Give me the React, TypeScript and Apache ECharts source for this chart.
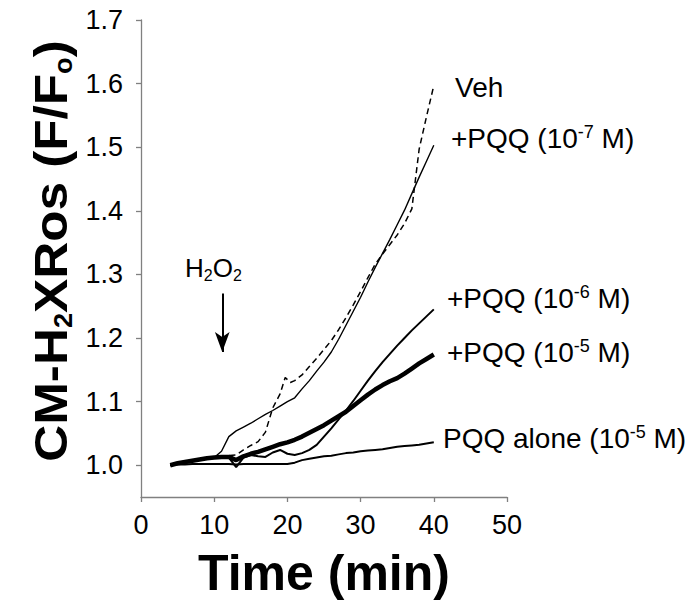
import React, { useEffect, useRef } from "react";
import * as echarts from "echarts";

// time points (min)
const timeMin = [4, 5, 6, 7, 8, 9, 10, 11, 12, 13, 14, 15, 16, 17, 18, 19, 20, 21, 22, 23, 24, 25, 26, 27, 28, 29, 30, 31, 32, 33, 34, 35, 36, 37, 38, 39, 40];
const vehTime = [4, 5, 6, 7, 8, 9, 10, 11, 12, 13, 14, 15, 16, 17, 18, 19, 19.7, 20.4, 21, 22, 23, 24, 25, 26, 27, 28, 29, 30, 31, 32, 33, 34, 35, 36, 37, 37.5, 38, 39, 40];

// F/Fo values
const vehValues = [1.000, 1.003, 1.005, 1.007, 1.009, 1.011, 1.013, 1.014, 1.015, 1.016, 1.024, 1.031, 1.037, 1.052, 1.090, 1.112, 1.138, 1.130, 1.133, 1.142, 1.155, 1.168, 1.182, 1.196, 1.213, 1.232, 1.252, 1.273, 1.295, 1.316, 1.332, 1.347, 1.362, 1.380, 1.403, 1.450, 1.497, 1.548, 1.597];
const pqq7Values = [1.000, 1.002, 1.004, 1.006, 1.008, 1.010, 1.012, 1.022, 1.045, 1.054, 1.060, 1.066, 1.073, 1.080, 1.086, 1.093, 1.100, 1.106, 1.120, 1.133, 1.148, 1.162, 1.178, 1.198, 1.220, 1.242, 1.264, 1.288, 1.311, 1.333, 1.355, 1.378, 1.401, 1.427, 1.453, 1.478, 1.503];
const pqq6Values = [1.000, 1.002, 1.004, 1.006, 1.008, 1.010, 1.012, 1.013, 1.012, 0.997, 1.012, 1.016, 1.014, 1.013, 1.020, 1.024, 1.018, 1.016, 1.019, 1.024, 1.032, 1.045, 1.058, 1.072, 1.086, 1.101, 1.117, 1.133, 1.148, 1.162, 1.175, 1.188, 1.200, 1.212, 1.223, 1.234, 1.245];
const pqq5Values = [1.000, 1.003, 1.005, 1.007, 1.009, 1.011, 1.012, 1.013, 1.013, 1.008, 1.014, 1.018, 1.021, 1.025, 1.029, 1.033, 1.036, 1.040, 1.045, 1.051, 1.057, 1.063, 1.070, 1.077, 1.084, 1.093, 1.102, 1.111, 1.119, 1.126, 1.132, 1.137, 1.144, 1.152, 1.160, 1.167, 1.174];
const aloneValues = [1.000, 1.001, 1.001, 1.002, 1.002, 1.002, 1.002, 1.002, 1.002, 1.001, 1.002, 1.002, 1.002, 1.002, 1.002, 1.002, 1.002, 1.004, 1.008, 1.010, 1.012, 1.014, 1.015, 1.017, 1.019, 1.020, 1.022, 1.023, 1.024, 1.025, 1.027, 1.029, 1.030, 1.031, 1.032, 1.034, 1.036];

// axis ticks
const yTickValues = [1.0, 1.1, 1.2, 1.3, 1.4, 1.5, 1.6, 1.7];

// H2O2 addition arrow (data coords)
const arrowTime = 11.1;
const arrowFrom = 1.27;
const arrowTo = 1.178;

const FONT = "'Liberation Sans', Arial, Helvetica, sans-serif";

function pairs(t: number[], v: number[]) {
  return t.map((x, i) => [x, v[i]]);
}

function supLabel(x: number, y: number, pre: string, sup: string, post: string) {
  return {
    type: "text",
    x,
    y,
    style: {
      text: `{m|${pre}}{s|${sup}}{m|${post}}`,
      fill: "#000",
      verticalAlign: "middle",
      rich: {
        m: { fontSize: 28, fontFamily: FONT, fill: "#000", lineHeight: 32 },
        s: { fontSize: 18, fontFamily: FONT, fill: "#000", lineHeight: 18, verticalAlign: "top", padding: [1, 0, 0, 0] },
      },
    },
  };
}

export default function App() {
  const ref = useRef<HTMLDivElement>(null);
  useEffect(() => {
    document.body.style.margin = "0";
    const chart = echarts.init(ref.current!, null, { renderer: "svg" });
    const axisColor = "#808080";
    chart.setOption({
      animation: false,
      backgroundColor: "#ffffff",
      grid: { left: 141, right: 193, top: 20, bottom: 116, containLabel: false },
      xAxis: {
        type: "value",
        min: 0,
        max: 50,
        interval: 10,
        axisLine: { show: true, onZero: false, lineStyle: { color: axisColor, width: 1.3 } },
        axisTick: { show: true, inside: false, length: 5, lineStyle: { color: axisColor, width: 1.3 } },
        axisLabel: { color: "#000", fontSize: 27, fontFamily: FONT, margin: 14 },
        splitLine: { show: false },
        name: "Time (min)",
        nameLocation: "middle",
        nameGap: 51,
        nameTextStyle: { fontSize: 50, fontWeight: "bold", color: "#000", fontFamily: FONT },
      },
      yAxis: {
        type: "value",
        min: 0.95,
        max: 1.7,
        axisLine: { show: true, onZero: false, lineStyle: { color: axisColor, width: 1.3 } },
        axisTick: { show: true, inside: false, length: 5, customValues: yTickValues, lineStyle: { color: axisColor, width: 1.3 } },
        axisLabel: {
          customValues: yTickValues,
          formatter: (v: number) => v.toFixed(1),
          color: "#000",
          fontSize: 27,
          fontFamily: FONT,
          margin: 18,
        },
        splitLine: { show: false },
      },
      series: [
        {
          type: "line",
          name: "PQQ alone (10-5 M)",
          data: pairs(timeMin, aloneValues),
          showSymbol: false,
          lineStyle: { color: "#000", width: 2 },
          markLine: {
            silent: true,
            symbol: ["none", "arrow"],
            symbolSize: [11, 20],
            label: { show: false },
            lineStyle: { color: "#000", width: 2, type: "solid" },
            data: [[{ coord: [arrowTime, arrowFrom] }, { coord: [arrowTime, arrowTo] }]],
          },
        },
        {
          type: "line",
          name: "Veh",
          data: pairs(vehTime, vehValues),
          showSymbol: false,
          lineStyle: { color: "#000", width: 1.5, type: [6, 4] },
        },
        {
          type: "line",
          name: "+PQQ (10-7 M)",
          data: pairs(timeMin, pqq7Values),
          showSymbol: false,
          lineStyle: { color: "#000", width: 1.4 },
        },
        {
          type: "line",
          name: "+PQQ (10-6 M)",
          data: pairs(timeMin, pqq6Values),
          showSymbol: false,
          lineStyle: { color: "#000", width: 2 },
        },
        {
          type: "line",
          name: "+PQQ (10-5 M)",
          data: pairs(timeMin, pqq5Values),
          showSymbol: false,
          lineStyle: { color: "#000", width: 4.5 },
        },
      ],
      graphic: [
        {
          type: "text",
          x: 50,
          y: 251,
          rotation: Math.PI / 2,
          scaleX: 1.09,
          style: {
            text: "{m|CM-H}{b|2}{m|XRos (F/F}{b|o}{m|)}",
            fill: "#000",
            align: "center",
            verticalAlign: "middle",
            rich: {
              m: { fontSize: 47, fontWeight: "bold", fontFamily: FONT, fill: "#000", lineHeight: 52 },
              b: { fontSize: 25, fontWeight: "bold", fontFamily: FONT, fill: "#000", lineHeight: 25, verticalAlign: "bottom" },
            },
          },
        },
        {
          type: "text",
          x: 185,
          y: 268,
          style: {
            text: "{m|H}{b|2}{m|O}{b|2}",
            fill: "#000",
            verticalAlign: "middle",
            rich: {
              m: { fontSize: 26, fontFamily: FONT, fill: "#000", lineHeight: 30 },
              b: { fontSize: 16, fontFamily: FONT, fill: "#000", lineHeight: 16, verticalAlign: "bottom", padding: [25, 0, 0, 0] },
            },
          },
        },
        {
          type: "text",
          x: 455,
          y: 87,
          style: { text: "Veh", fill: "#000", font: `28px ${FONT}`, verticalAlign: "middle" },
        },
        supLabel(451, 138, "+PQQ (10", "-7", " M)"),
        supLabel(447, 298, "+PQQ (10", "-6", " M)"),
        supLabel(447, 352, "+PQQ (10", "-5", " M)"),
        supLabel(443, 438, "PQQ alone (10", "-5", " M)"),
      ],
    });
    return () => chart.dispose();
  }, []);
  return <div ref={ref} style={{ width: 700, height: 613 }} />;
}
